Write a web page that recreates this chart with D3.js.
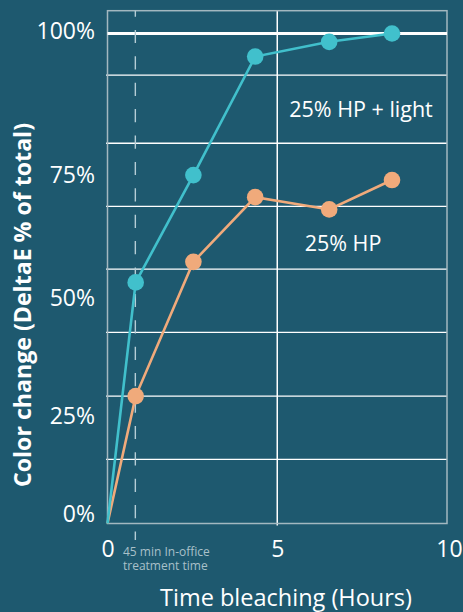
<!DOCTYPE html>
<html><head><meta charset="utf-8">
<script src="https://cdn.jsdelivr.net/npm/d3@7"></script>
<style>
html,body{margin:0;padding:0;background:#1e596f;}
svg{display:block;}
text{font-family:"Open Sans","Noto Sans",sans-serif;}
</style></head>
<body>
<script>
// ---- data ----
const hours = [0, 0.83, 2.53, 4.35, 6.53, 8.38];
const hpLight = [0, 49.2, 71.1, 95.3, 98.3, 100];
const hpOnly = [0, 26.0, 53.4, 66.6, 64.1, 70.1];
const seriesNames = ["25% HP + light", "25% HP"];
const xTicks = [0, 5, 10];
const yTickLabels = ["0%", "25%", "50%", "75%", "100%"];
const yTickLabelAt = [1.9, 22.0, 46.1, 71.1, 100.5];
const yGrid = [13.1, 26.0, 39.0, 51.9, 64.7, 77.6, 91.5];
const treatmentHours = 0.82;
const treatmentNote = ["45 min In-office", "treatment time"];
const xTitle = "Time bleaching (Hours)";
const yTitle = "Color change (DeltaE % of total)";

// ---- layout ----
const W = 463, H = 612;
const pL = 107.5, pR = 447, pT = 10.7, pB = 523.5;
const teal = "#41c0cc", orange = "#f0aa7b";
const x = d3.scaleLinear().domain([0, 10]).range([pL, pR]);
const y = d3.scaleLinear().domain([0, 100]).range([pB, 33.5]);

const svg = d3.select("body").append("svg").attr("width", W).attr("height", H);
svg.append("rect").attr("width", W).attr("height", H).attr("fill", "#1e596f");

// horizontal grid
svg.append("g").selectAll("line").data(yGrid).join("line")
  .attr("x1", pL - 1.5).attr("x2", pR)
  .attr("y1", d => y(d)).attr("y2", d => y(d))
  .attr("stroke", "#ffffff").attr("stroke-width", 1.3);

// vertical grid at 5
svg.append("line").attr("x1", x(5)).attr("x2", x(5))
  .attr("y1", pT).attr("y2", pB + 2)
  .attr("stroke", "#ffffff").attr("stroke-width", 1.5);

// plot border
svg.append("rect").attr("x", pL).attr("y", pT)
  .attr("width", pR - pL).attr("height", pB - pT)
  .attr("fill", "none").attr("stroke", "#a3b8c0").attr("stroke-width", 1.5);

// 100% line
svg.append("line").attr("x1", pL).attr("x2", pR)
  .attr("y1", y(100)).attr("y2", y(100))
  .attr("stroke", "#ffffff").attr("stroke-width", 3);

// dashed treatment line
svg.append("line").attr("x1", x(treatmentHours)).attr("x2", x(treatmentHours))
  .attr("y1", pT).attr("y2", 540)
  .attr("stroke", "#b5cdd6").attr("stroke-width", 1.4)
  .attr("stroke-dasharray", "13.2 13.2").attr("stroke-dashoffset", 7.2);

// y tick labels
svg.append("g").selectAll("text").data(yTickLabels).join("text")
  .attr("x", 95).attr("y", (d, i) => y(yTickLabelAt[i]))
  .attr("dy", "0.36em").attr("text-anchor", "end")
  .attr("fill", "#ffffff").attr("font-size", 23).text(d => d);

// x axis labels
const xAxis = d3.axisBottom(x).tickValues(xTicks).tickSize(0).tickPadding(0)
  .tickFormat(d3.format("d"));
const gx = svg.append("g").attr("transform", `translate(0,${pB})`).call(xAxis);
gx.select(".domain").remove();
gx.selectAll("text").attr("font-size", 23).attr("fill", "#ffffff")
  .attr("font-family", "Open Sans").attr("dy", null).attr("y", 33);
gx.selectAll(".tick").filter(d => d === 10).select("text").attr("dx", 2);

// series lines + points
const lineGen = d3.line().x(d => x(d[0])).y(d => y(d[1]));
[[hpOnly, orange], [hpLight, teal]].forEach(([vals, col]) => {
  const pts = hours.map((h, i) => [h, vals[i]]);
  svg.append("path").datum(pts).attr("d", lineGen)
    .attr("fill", "none").attr("stroke", col).attr("stroke-width", 2.6);
  svg.append("g").selectAll("circle").data(pts.slice(1)).join("circle")
    .attr("cx", d => x(d[0])).attr("cy", d => y(d[1])).attr("r", 8.3)
    .attr("fill", col);
});

// series labels
svg.append("text").attr("x", 361).attr("y", 117.3).attr("text-anchor", "middle")
  .attr("fill", "#ffffff").attr("font-size", 21.5).text(seriesNames[0]);
svg.append("text").attr("x", 343).attr("y", 250.7).attr("text-anchor", "middle")
  .attr("fill", "#ffffff").attr("font-size", 21.5).text(seriesNames[1]);

// treatment note (one text, two lines)
const note = svg.append("text").attr("fill", "#a9c0c9").attr("font-size", 12);
note.selectAll("tspan").data(treatmentNote).join("tspan")
  .attr("x", 123).attr("y", (d, i) => 555.5 + i * 14).text(d => d);

// axis titles
svg.append("text").attr("x", 286).attr("y", 606).attr("text-anchor", "middle")
  .attr("fill", "#ffffff").attr("font-size", 23.5).text(xTitle);
svg.append("text").attr("transform", "translate(30.5,305) rotate(-90)")
  .attr("text-anchor", "middle").attr("fill", "#ffffff")
  .attr("font-size", 22.5).attr("font-weight", "bold")
  .attr("textLength", 364).attr("lengthAdjust", "spacingAndGlyphs").text(yTitle);
</script>
</body></html>
